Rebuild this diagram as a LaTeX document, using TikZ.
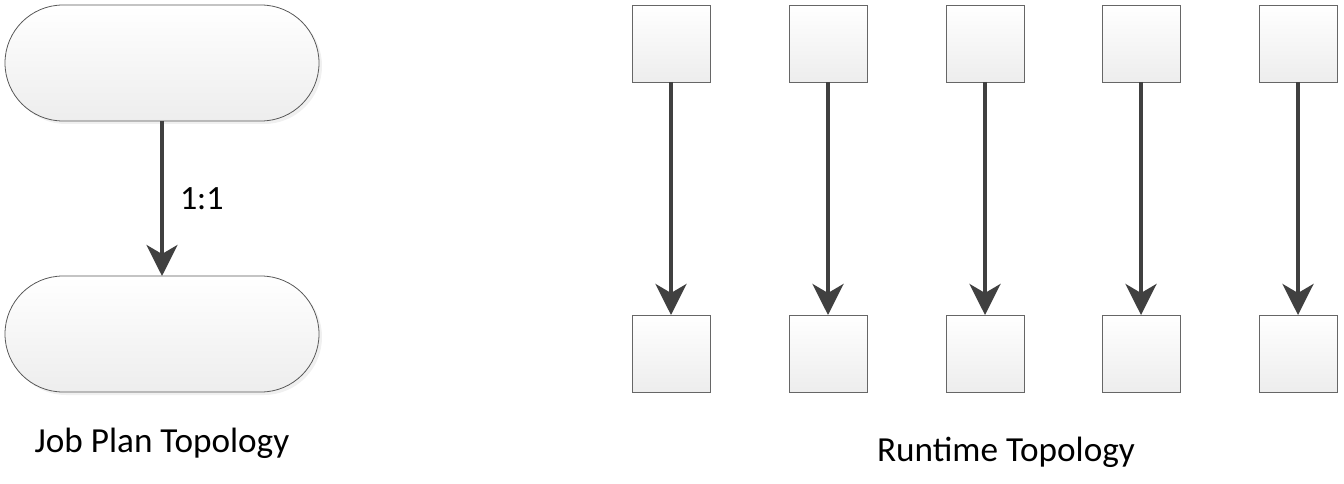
\documentclass[tikz,border=0pt]{standalone}
\usepackage{fontspec}
\setmainfont{Carlito}
\usetikzlibrary{arrows.meta,shadows}

\begin{document}
\begin{tikzpicture}[x=1pt,y=-1pt,
  every node/.style={outer sep=0pt, inner sep=0pt},
  plan/.style={draw=black!65, line width=0.8pt, top color=white, bottom color=black!7,
    minimum width=314pt, minimum height=116pt, rounded corners=58pt,
    drop shadow={opacity=0.12, shadow xshift=3pt, shadow yshift=-3pt}},
  task/.style={draw=black!60, line width=0.8pt, top color=white, bottom color=black!7,
    minimum width=78pt, minimum height=77pt},
  flow/.style={draw=black!75, line width=4pt, -{Stealth[length=31pt,width=31pt,inset=9pt]}},
  caption/.style={font=\fontsize{35.2}{42}\selectfont}]
\useasboundingbox (0,0) rectangle (1344,484);

\node[plan] (op1) at (162,63) {};
\node[plan] (op2) at (162,334) {};
\draw[flow] (op1.south) -- node[right=18pt, font=\fontsize{34}{40}\selectfont] (ratio) {1:1} (op2.north);

\node[task] (up1) at (671,43.5) {};
\node[task] (up2) at (828,43.5) {};
\node[task] (up3) at (985,43.5) {};
\node[task] (up4) at (1141,43.5) {};
\node[task] (up5) at (1298,43.5) {};

\node[task] (down1) at (671,353.5) {};
\node[task] (down2) at (828,353.5) {};
\node[task] (down3) at (985,353.5) {};
\node[task] (down4) at (1141,353.5) {};
\node[task] (down5) at (1298,353.5) {};

\draw[flow] (up1) -- (down1);
\draw[flow] (up2) -- (down2);
\draw[flow] (up3) -- (down3);
\draw[flow] (up4) -- (down4);
\draw[flow] (up5) -- (down5);

\node[caption] (planlabel) at (162,443) {Job Plan Topology};
\node[caption] (runlabel) at (1006,452) {Runtime Topology};
\end{tikzpicture}
\end{document}
